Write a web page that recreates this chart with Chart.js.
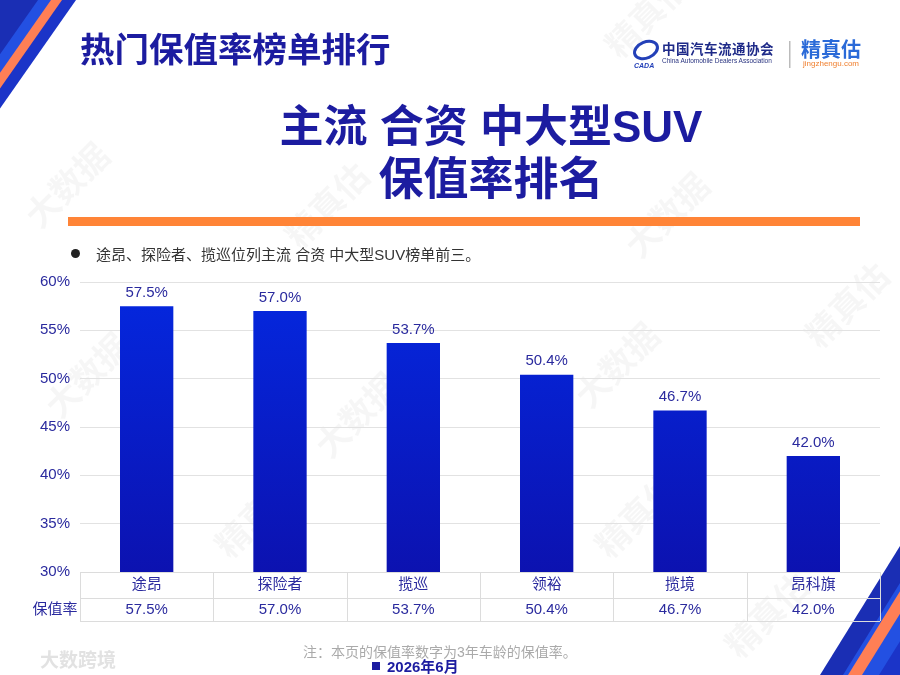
<!DOCTYPE html>
<html>
<head>
<meta charset="utf-8">
<script src="https://cdn.jsdelivr.net/npm/chart.js@4"></script>
<style>
  body { margin: 0; background: #fff; }
  #wrap { position: relative; width: 900px; height: 675px; overflow: hidden; font-family: "Liberation Sans", "Noto Sans CJK SC", sans-serif; }
  #grafico { position: absolute; left: 0; top: 0; }
  .txt { position: absolute; white-space: nowrap; }
</style>
</head>
<body>
<div id="wrap">
  <canvas id="grafico" width="900" height="675"></canvas>

  <div class="txt" style="left:80px;top:22px;font-size:34.5px;font-weight:700;color:#1c1ca0;">热门保值率榜单排行</div>

  <div class="txt" style="left:662px;top:38px;font-size:13.5px;font-weight:700;color:#1e2a88;letter-spacing:0.5px;">中国汽车流通协会</div>
  <div class="txt" style="left:662px;top:57px;font-size:6.5px;color:#2a3480;">China Automobile Dealers Association</div>
  <div class="txt" style="left:801px;top:34px;font-size:20px;font-weight:700;color:#2a6ad8;">精真估</div>
  <div class="txt" style="left:803px;top:59px;font-size:8px;color:#f08030;">jingzhengu.com</div>

  <div class="txt" style="left:0;width:982px;text-align:center;top:100px;font-size:44px;font-weight:700;color:#1c1ca0;line-height:53px;">主流 合资 中大型SUV<br><span style="font-size:45px;">保值率排名</span></div>

  <div class="txt" style="left:71px;top:249px;width:9px;height:9px;border-radius:50%;background:#222;"></div>
  <div class="txt" style="left:96px;top:243px;font-size:15px;color:#333;">途昂、探险者、揽巡位列主流 合资 中大型SUV榜单前三。</div>

  <div class="txt" style="left:303px;top:641px;font-size:14px;color:#aaa;">注：本页的保值率数字为3年车龄的保值率。</div>
  <div class="txt" style="left:372px;top:662px;width:8px;height:8px;background:#1c1ca0;"></div>
  <div class="txt" style="left:387px;top:655px;font-size:15px;font-weight:700;color:#1c1ca0;">2026年6月</div>
  <div class="txt" style="left:40px;top:645px;font-size:19px;font-weight:700;color:#e2e2e2;">大数跨境</div>
</div>

<script>
// datos
const modelos = ['途昂', '探险者', '揽巡', '领裕', '揽境', '昂科旗'];
const tasas = [57.5, 57.0, 53.7, 50.4, 46.7, 42.0];
const etiquetaFila = '保值率';
const serie = '2026年6月';
const ejeMin = 30;
const ejeMax = 60;
const ejePaso = 5;

const azulTexto = '#2a2a9e';
const fuente = '"Liberation Sans", "Noto Sans CJK SC"';

// =====================
// FONDO: esquinas y marcas de agua
// =====================
const fondo = {
  id: 'fondo',
  beforeDraw(chart) {
    const ctx = chart.ctx;
    ctx.save();

    // marcas de agua
    ctx.fillStyle = 'rgba(0,0,0,0.035)';
    ctx.font = 'bold 34px "Noto Sans CJK SC"';
    const marcas = [
      ['精真估', 620, 60], ['大数据', 40, 230], ['精真估', 300, 250],
      ['大数据', 640, 260], ['精真估', 820, 350], ['大数据', 60, 420],
      ['大数据', 330, 460], ['精真估', 610, 560], ['精真估', 230, 560],
      ['大数据', 590, 410], ['精真估', 740, 660]
    ];
    marcas.forEach(m => {
      ctx.save();
      ctx.translate(m[1], m[2]);
      ctx.rotate(-Math.PI / 4);
      ctx.fillText(m[0], 0, 0);
      ctx.restore();
    });

    // linea naranja
    ctx.fillStyle = '#ff8437';
    ctx.fillRect(68, 217, 792, 9);

    // esquina arriba izquierda
    const k = 0.7;
    const capasArriba = [[76, '#1b34c8'], [62, '#ff7f55'], [51, '#2350e2'], [38, '#1a2eb4']];
    capasArriba.forEach(c => {
      ctx.fillStyle = c[1];
      ctx.beginPath();
      ctx.moveTo(0, 0);
      ctx.lineTo(c[0], 0);
      ctx.lineTo(0, c[0] / k);
      ctx.closePath();
      ctx.fill();
    });

    // esquina abajo derecha
    const k2 = 0.62;
    const capasAbajo = [[820, '#1a2eb4'], [843, '#2350e2'], [848, '#ff7f55'], [862, '#2350e2'], [879, '#1b34c8']];
    capasAbajo.forEach(c => {
      ctx.fillStyle = c[1];
      ctx.beginPath();
      ctx.moveTo(c[0], 675);
      ctx.lineTo(900, 675);
      ctx.lineTo(900, 675 - (900 - c[0]) / k2);
      ctx.closePath();
      ctx.fill();
    });

    // logo
    ctx.strokeStyle = '#2340b8';
    ctx.lineWidth = 3;
    ctx.beginPath();
    ctx.ellipse(646, 50, 12, 8, -0.4, 0, Math.PI * 2);
    ctx.stroke();
    ctx.fillStyle = '#2340b8';
    ctx.font = 'italic bold 7px "Liberation Sans"';
    ctx.fillText('CADA', 634, 68);
    ctx.fillStyle = '#bbb';
    ctx.fillRect(789, 41, 1.5, 27);

    ctx.restore();
  }
};

// =====================
// ETIQUETAS Y TABLA
// =====================
const tabla = {
  id: 'tabla',
  afterDatasetsDraw(chart) {
    const ctx = chart.ctx;
    const x = chart.scales.x;
    const area = chart.chartArea;
    const meta = chart.getDatasetMeta(0);
    ctx.save();

    // etiquetas sobre barras
    ctx.fillStyle = azulTexto;
    ctx.font = '15px ' + fuente;
    ctx.textAlign = 'center';
    ctx.textBaseline = 'bottom';
    meta.data.forEach((bar, i) => {
      ctx.fillText(tasas[i].toFixed(1) + '%', bar.x, bar.y - 6);
    });

    // tabla de datos
    const ancho = (area.right - area.left) / modelos.length;
    const y0 = area.bottom;
    const y1 = y0 + 26;
    const y2 = y1 + 23;
    ctx.strokeStyle = '#dcdcdc';
    ctx.lineWidth = 1;
    ctx.beginPath();
    [y0, y1, y2].forEach(y => {
      ctx.moveTo(area.left, y + 0.5);
      ctx.lineTo(area.right, y + 0.5);
    });
    for (let i = 0; i <= modelos.length; i++) {
      const xx = Math.round(area.left + i * ancho) + 0.5;
      ctx.moveTo(xx, y0);
      ctx.lineTo(xx, y2);
    }
    ctx.stroke();

    ctx.textBaseline = 'middle';
    ctx.fillStyle = azulTexto;
    modelos.forEach((m, i) => {
      const cx = x.getPixelForValue(i);
      ctx.fillText(m, cx, (y0 + y1) / 2);
      ctx.fillText(tasas[i].toFixed(1) + '%', cx, (y1 + y2) / 2);
    });
    ctx.fillText(etiquetaFila, 55, (y1 + y2) / 2);

    ctx.restore();
  }
};

// =====================
// GRAFICO
// =====================
new Chart(document.getElementById('grafico'), {
  type: 'bar',
  data: {
    labels: modelos,
    datasets: [
      {
        label: serie,
        data: tasas,
        backgroundColor: ctx => {
          const area = ctx.chart.chartArea;
          if (!area) return '#0a20d0';
          const g = ctx.chart.ctx.createLinearGradient(0, area.top, 0, area.bottom);
          g.addColorStop(0, '#0428e0');
          g.addColorStop(1, '#0c12b0');
          return g;
        },
        categoryPercentage: 1,
        barPercentage: 0.4
      }
    ]
  },
  options: {
    responsive: false,
    animation: false,
    layout: {
      padding: { top: 282, bottom: 103, left: 0, right: 20 }
    },
    plugins: {
      legend: { display: false },
      tooltip: { enabled: false }
    },
    scales: {
      x: {
        display: false
      },
      y: {
        min: ejeMin,
        max: ejeMax,
        border: { display: false },
        grid: { color: '#e2e2e2', drawTicks: false },
        ticks: {
          stepSize: ejePaso,
          padding: 10,
          color: azulTexto,
          font: { size: 15, family: fuente },
          callback: value => value + '%'
        },
        afterFit: s => { s.width = 80; }
      }
    }
  },
  plugins: [fondo, tabla]
});
</script>
</body>
</html>
